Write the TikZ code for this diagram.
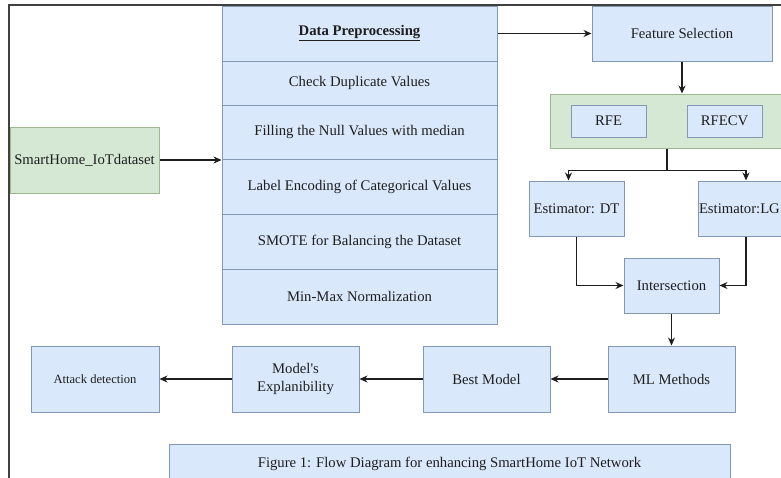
\documentclass[tikz,border=0pt]{standalone}
\usepackage{fontspec}
\setmainfont{Liberation Serif}
\usetikzlibrary{arrows.meta,calc}
\definecolor{bfill}{HTML}{DAE8FC}
\definecolor{bline}{HTML}{8497B5}
\definecolor{gfill}{HTML}{D5E8D4}
\definecolor{gline}{HTML}{9DB891}
\definecolor{ink}{HTML}{1E1E1E}
\begin{document}
\begin{tikzpicture}[x=1pt,y=-1pt,
  box/.style={draw=bline,fill=bfill,line width=1pt,inner sep=0pt,align=center,text=ink,font=\fontsize{14.7}{18}\selectfont},
  gbox/.style={box,draw=gline,fill=gfill},
  arr/.style={draw=ink,line width=1.1pt,-{Stealth[length=8pt,width=7pt]}},
  ln/.style={draw=ink,line width=1.1pt}]
\useasboundingbox (0,0) rectangle (781,477);
% Data preprocessing table
\node[box,minimum width=275pt,minimum height=55pt] (hdr) at (359.5,33.5) {\underline{\textbf{Data Preprocessing}}};
\node[box,minimum width=275pt,minimum height=44pt] (r1) at (359.5,83) {Check Duplicate Values};
\node[box,minimum width=275pt,minimum height=54pt] (r2) at (359.5,132) {Filling the Null Values with median};
\node[box,minimum width=275pt,minimum height=55pt] (r3) at (359.5,186.5) {Label Encoding of Categorical Values};
\node[box,minimum width=275pt,minimum height=55pt] (r4) at (359.5,241.5) {SMOTE for Balancing the Dataset};
\node[box,minimum width=275pt,minimum height=55pt] (r5) at (359.5,296.5) {Min-Max Normalization};
% dataset
\node[gbox,minimum width=149pt,minimum height=66pt] (ds) at (84.5,160) {SmartHome\_IoTdataset};
% feature selection
\node[box,minimum width=180pt,minimum height=55pt] (fs) at (682,33.5) {Feature Selection};
\node[gbox,minimum width=234pt,minimum height=54pt] (grp) at (667,121) {};
\node[box,minimum width=75pt,minimum height=32pt] (rfe) at (608.5,121) {RFE};
\node[box,minimum width=75pt,minimum height=32pt] (rfecv) at (724.5,121) {RFECV};
\node[box,minimum width=95pt,minimum height=55pt] (dt) at (576.5,208.5) {Estimator: DT};
\node[box,minimum width=96pt,minimum height=55pt,text width=94pt,align=left] (lg) at (746,208.5) {Estimator:LG};
\node[box,minimum width=95pt,minimum height=55pt] (int) at (671.5,285.5) {Intersection};
\node[box,minimum width=127pt,minimum height=66pt] (ml) at (671.5,379) {ML Methods};
\node[box,minimum width=127pt,minimum height=66pt] (best) at (486.5,379) {Best Model};
\node[box,minimum width=127pt,minimum height=66pt] (expl) at (295.5,379) {Model\textquotesingle s\\Explanibility};
\node[box,minimum width=128pt,minimum height=66pt,font=\fontsize{12.6}{15}\selectfont] (att) at (95,379) {Attack detection};
\node[box,minimum width=561pt,minimum height=40pt] (cap) at (449.5,464) {Figure 1: Flow Diagram for enhancing SmartHome IoT Network};
% connectors
\draw[arr] (ds.east) -- (ds.east -| r3.west);
\draw[arr] (hdr.east) -- (fs.west);
\draw[arr] (fs.south) -- (fs.south |- grp.north);
\coordinate (j) at ($(grp.south)+(0,22)$);
\draw[ln] (grp.south) -- (j);
\draw[arr] (j) -| ([xshift=-8pt]dt.north);
\draw[arr] (j) -| (lg.north);
\draw[arr] (dt.south) |- (int.west);
\draw[arr] (lg.south) |- (int.east);
\draw[arr] (int.south) -- (ml.north);
\draw[arr] (ml.west) -- (best.east);
\draw[arr] (best.west) -- (expl.east);
\draw[arr] (expl.west) -- (att.east);
% outer frame
\draw[line width=1.5pt,draw=ink!85] (9,480) -- (9,5) -- (785,5);
\end{tikzpicture}
\end{document}
